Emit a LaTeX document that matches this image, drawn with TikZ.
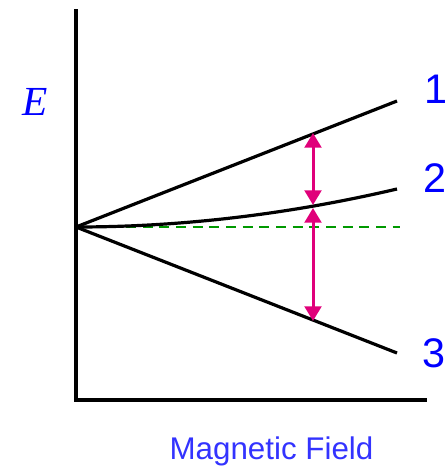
\documentclass[tikz,border=0pt]{standalone}
\usepackage{fontspec}
\setmainfont{Liberation Sans}
\newfontfamily\timesfont{Liberation Serif}
\usetikzlibrary{arrows.meta}
\definecolor{lblblue}{RGB}{0,0,255}
\definecolor{axblue}{RGB}{51,51,255}
\definecolor{mag}{RGB}{224,0,122}
\definecolor{dgreen}{RGB}{0,153,0}
\begin{document}
\begin{tikzpicture}[x=0.75pt,y=-0.75pt,
  axisline/.style={line width=3pt,line join=miter},
  level/.style={line width=2.4pt},
  ref/.style={dgreen,line width=1.5pt,dash pattern=on 7.5pt off 5pt},
  gap/.style={mag,line width=2.25pt,{Triangle[length=11pt,width=12.5pt]}-{Triangle[length=11pt,width=12.5pt]}},
  num/.style={text=lblblue,anchor=base,inner sep=0pt,font=\fontsize{31}{36}\selectfont},
]
\useasboundingbox (0,0) rectangle (448,468);
\coordinate (top) at (76,9);
\coordinate (corner) at (76,400);
\coordinate (right) at (427,400);
\coordinate (O) at (76,227);
\coordinate (e1) at (397,101);
\coordinate (e2) at (397,189);
\coordinate (e3) at (397,353);
\coordinate (dend) at (400,227);
\coordinate (u1) at (313,133);
\coordinate (u2) at (313,205);
\coordinate (l1) at (313,208);
\coordinate (l2) at (313,321);
\draw[axisline] (top) -- (corner) -- (right);
\draw[ref] (O) -- (dend);
\draw[level] (O) -- (e1);
\draw[level] (O) .. controls (183,227) and (290,214) .. (e2);
\draw[level] (O) -- (e3);
\draw[gap] (u1) -- (u2);
\draw[gap] (l1) -- (l2);
\node[num] (n1) at (436,103) {1};
\node[num] (n2) at (435,192) {2};
\node[num] (n3) at (434,367) {3};
\node[text=lblblue,anchor=base,inner sep=0pt,font=\timesfont\itshape\fontsize{31}{36}\selectfont] (E) at (35,115) {E};
\node[text=axblue,anchor=base,inner sep=0pt,font=\fontsize{23.5}{28}\selectfont] (mf) at (271.5,459) {Magnetic Field};
\end{tikzpicture}
\end{document}
